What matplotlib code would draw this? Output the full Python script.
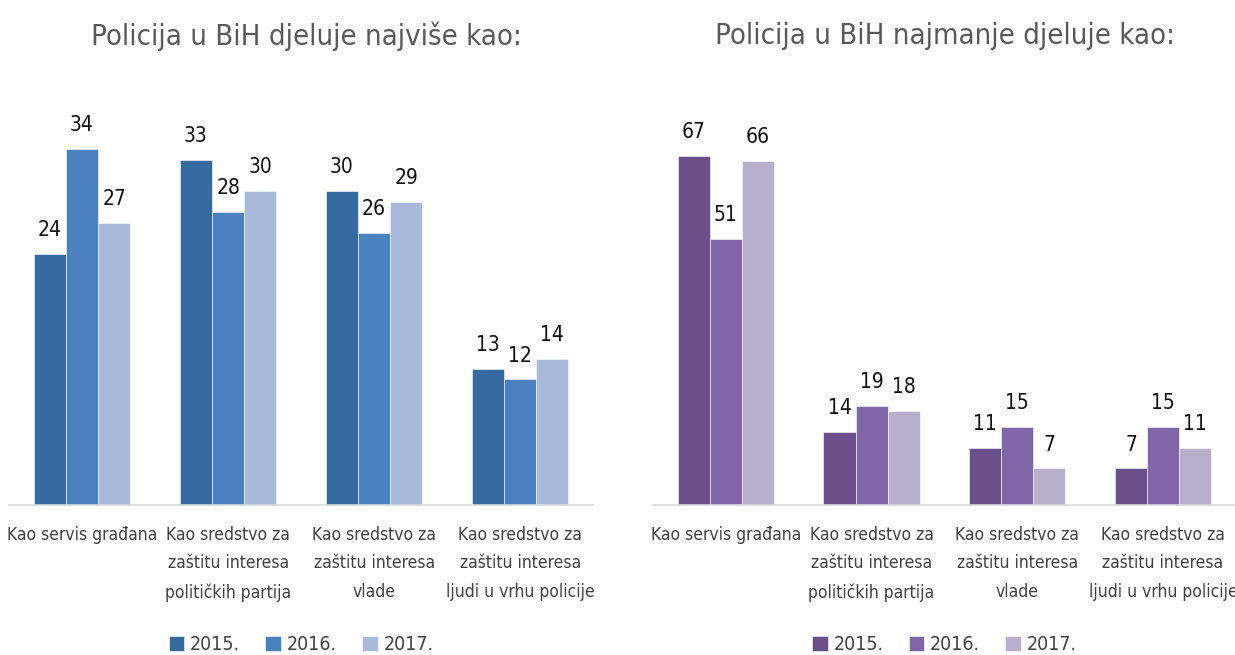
import matplotlib.pyplot as plt
import numpy as np

# data
categories = [
    "Kao servis građana",
    "Kao sredstvo za\nzaštitu interesa\npolitičkih partija",
    "Kao sredstvo za\nzaštitu interesa\nvlade",
    "Kao sredstvo za\nzaštitu interesa\nljudi u vrhu policije",
]
years = ["2015.", "2016.", "2017."]

most_2015 = [24, 33, 30, 13]
most_2016 = [34, 28, 26, 12]
most_2017 = [27, 30, 29, 14]

least_2015 = [67, 14, 11, 7]
least_2016 = [51, 19, 15, 15]
least_2017 = [66, 18, 7, 11]

title_most = "Policija u BiH djeluje najviše kao:"
title_least = "Policija u BiH najmanje djeluje kao:"

blue_colors = ["#376a9e", "#4a81c1", "#a9b9da"]
purple_colors = ["#6a4f8a", "#8066a8", "#b8afcd"]

plt.rcParams["font.family"] = ["Liberation Sans Narrow", "DejaVu Sans"]
plt.rcParams["font.stretch"] = "condensed"


def draw_panel(fig, rect, series, colors, title, ymax, title_x):
    ax = fig.add_axes(rect)
    x = np.arange(len(categories))
    width = 0.22
    for i, (vals, color, year) in enumerate(zip(series, colors, years)):
        bars = ax.bar(x + (i - 1) * width, vals, width, color=color,
                      edgecolor="white", linewidth=0.4, label=year)
        ax.bar_label(bars, padding=10, fontsize=15, color="#111111")
    ax.set_xlim(-0.5, len(categories) - 0.5)
    ax.set_ylim(0, ymax)
    ax.set_xticks(x)
    ax.set_xticklabels(categories, fontsize=12.5, color="#404040",
                       linespacing=1.75, va="top")
    ax.tick_params(axis="x", length=0, pad=15)
    ax.set_yticks([])
    for side in ("top", "right", "left"):
        ax.spines[side].set_visible(False)
    ax.spines["bottom"].set_color("#d9d9d9")
    ax.spines["bottom"].set_linewidth(1.2)
    fig.text(title_x, 0.945, title, ha="center", va="center",
             fontsize=21, color="#595959")
    ax.legend(loc="center", bbox_to_anchor=(0.5, -0.345), ncol=3,
              frameon=False, fontsize=14, handlelength=0.8,
              handleheight=0.8, handletextpad=0.3, columnspacing=1.3,
              labelcolor="#404040")
    return ax


fig = plt.figure(figsize=(12.35, 6.55), dpi=100)
draw_panel(fig, [0.0073, 0.229, 0.473, 0.618],
           [most_2015, most_2016, most_2017], blue_colors,
           title_most, 38.7, 0.248)
draw_panel(fig, [0.5287, 0.229, 0.472, 0.618],
           [least_2015, least_2016, least_2017], purple_colors,
           title_least, 77.6, 0.765)
fig.savefig("out.png", dpi=100)
